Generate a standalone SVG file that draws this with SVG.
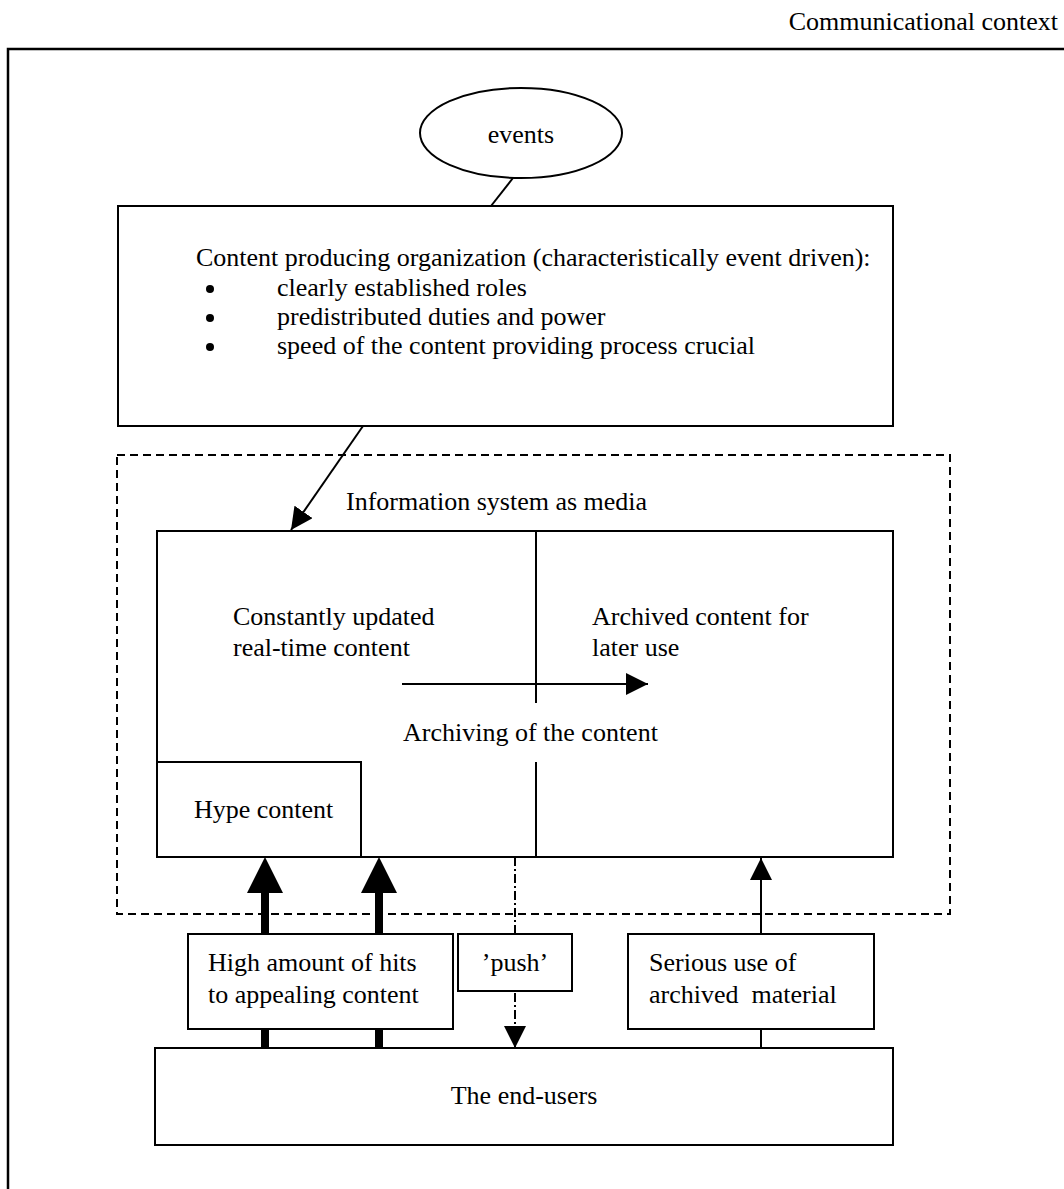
<svg xmlns="http://www.w3.org/2000/svg" width="1064" height="1189" viewBox="0 0 1064 1189">
  <style>
    text { font-family: "Liberation Serif", "Times New Roman", serif; font-size: 26px; fill: #000; }
    .mid { text-anchor: middle; }
    .box { fill: #fff; stroke: #000; stroke-width: 2; }
    .frame { fill: none; stroke: #000; stroke-width: 2.5; }
    .dash { fill: none; stroke: #000; stroke-width: 2; stroke-dasharray: 8 5; }
    .line { fill: none; stroke: #000; stroke-width: 2; }
    .thick { fill: none; stroke: #000; stroke-width: 8; }
    .dashdot { fill: none; stroke: #000; stroke-width: 2; stroke-dasharray: 9 3 2 3; }
  </style>
  <defs>
    <marker id="head" markerUnits="userSpaceOnUse" markerWidth="22" markerHeight="22" viewBox="0 0 22 22" refX="22" refY="11" orient="auto">
      <path d="M0,0 L22,11 L0,22 z" fill="#000"/>
    </marker>
    <marker id="headBig" markerUnits="userSpaceOnUse" markerWidth="36" markerHeight="36" viewBox="0 0 36 36" refX="0" refY="18" orient="auto">
      <path d="M0,0 L36,18 L0,36 z" fill="#000"/>
    </marker>
  </defs>
  <rect width="1064" height="1189" fill="#fff"/>

  <!-- surrounding context frame -->
  <g id="context">
    <path class="frame" d="M8,1189 V49 H1064"/>
    <text x="1058" y="30" text-anchor="end">Communicational context</text>
  </g>

  <!-- connectors -->
  <g id="connectors">
    <line class="line" x1="513" y1="178" x2="491" y2="206"/>
    <line class="line" x1="363" y1="426" x2="291" y2="530" marker-end="url(#head)"/>
    <line class="line" x1="402" y1="684" x2="648" y2="684" marker-end="url(#head)"/>
    <line class="thick" x1="265" y1="1048" x2="265" y2="893" marker-end="url(#headBig)"/>
    <line class="thick" x1="379" y1="1048" x2="379" y2="893" marker-end="url(#headBig)"/>
    <line class="line" x1="761" y1="1048" x2="761" y2="858" marker-end="url(#head)"/>
    <line class="dashdot" x1="515" y1="857" x2="515" y2="1048" marker-end="url(#head)"/>
  </g>

  <g id="events">
    <ellipse class="box" cx="521" cy="133" rx="101" ry="45"/>
    <text class="mid" x="521" y="143">events</text>
  </g>

  <g id="organization">
    <rect class="box" x="118" y="206" width="775" height="220"/>
    <text x="196" y="266">Content producing organization (characteristically event driven):</text>
    <circle cx="210" cy="289" r="4"/>
    <text x="277" y="296">clearly established roles</text>
    <circle cx="210" cy="318" r="4"/>
    <text x="277" y="325">predistributed duties and power</text>
    <circle cx="210" cy="347" r="4"/>
    <text x="277" y="354">speed of the content providing process crucial</text>
  </g>

  <g id="media">
    <rect class="dash" x="117" y="455" width="833" height="459"/>
    <text x="346" y="510">Information system as media</text>
  </g>

  <g id="information-system">
    <rect class="line" x="157" y="531" width="736" height="326"/>
    <line class="line" x1="536" y1="531" x2="536" y2="703"/>
    <line class="line" x1="536" y1="762" x2="536" y2="857"/>
    <text x="233" y="625">Constantly updated</text>
    <text x="233" y="656">real-time content</text>
    <text x="592" y="625">Archived content for</text>
    <text x="592" y="656">later use</text>
    <text x="403" y="741">Archiving of the content</text>
  </g>

  <g id="hype">
    <path class="line" d="M157,762 H361 V857"/>
    <text x="194" y="818">Hype content</text>
  </g>

  <g id="hits">
    <rect class="box" x="188" y="934" width="265" height="95"/>
    <text x="208" y="971">High amount of hits</text>
    <text x="208" y="1003">to appealing content</text>
  </g>

  <g id="push">
    <rect class="box" x="458" y="934" width="114" height="57"/>
    <text class="mid" x="515" y="971">’push’</text>
  </g>

  <g id="serious">
    <rect class="box" x="628" y="934" width="246" height="95"/>
    <text x="649" y="971">Serious use of</text>
    <text x="649" y="1003" xml:space="preserve">archived  material</text>
  </g>

  <g id="end-users">
    <rect class="box" x="155" y="1048" width="738" height="97"/>
    <text class="mid" x="524" y="1104">The end-users</text>
  </g>
</svg>
